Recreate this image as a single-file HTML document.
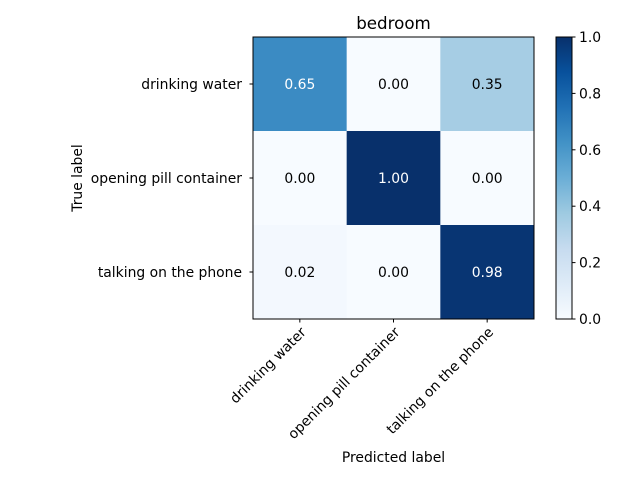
<!DOCTYPE html>
<html><head><meta charset="utf-8"><style>body{margin:0;background:#fff}svg{display:block;font-family:"DejaVu Sans","Liberation Sans",sans-serif}</style></head>
<body>
<svg id="chart" width="640" height="480" xmlns="http://www.w3.org/2000/svg">
<defs><linearGradient id="blues" x1="0" y1="1" x2="0" y2="0">
<stop offset="0" stop-color="#f7fbff"/><stop offset="0.125" stop-color="#deebf7"/><stop offset="0.25" stop-color="#c6dbef"/><stop offset="0.375" stop-color="#9ecae1"/><stop offset="0.5" stop-color="#6baed6"/><stop offset="0.625" stop-color="#4292c6"/><stop offset="0.75" stop-color="#2171b5"/><stop offset="0.875" stop-color="#08519c"/><stop offset="1" stop-color="#08306b"/></linearGradient></defs>
<text x="393.5" y="29" font-size="16.7" text-anchor="middle">bedroom</text>
<g id="cells"></g>
<rect x="253" y="37" width="281" height="282" fill="none" stroke="#000" stroke-width="1"/>
<text transform="translate(82,178) rotate(-90)" font-size="13.9" text-anchor="middle">True label</text>
<text x="393.5" y="462" font-size="13.9" text-anchor="middle">Predicted label</text>
<rect x="556" y="37" width="16" height="282" fill="url(#blues)" stroke="#000" stroke-width="1"/>
<g id="cbticks"></g>
</svg>
<script>
const classes = ["drinking water","opening pill container","talking on the phone"];
const row0 = [0.65,0.00,0.35];
const row1 = [0.00,1.00,0.00];
const row2 = [0.02,0.00,0.98];
const matrix = [row0,row1,row2];
const cbTicks = [0.0,0.2,0.4,0.6,0.8,1.0];
const NS="http://www.w3.org/2000/svg";
const X0=253,Y0=37,W=281,H=282,n=classes.length;
const cw=W/n, ch=H/n;
const xs=i=>X0+i*cw, ys=j=>Y0+j*ch;
const anchors=["#f7fbff","#deebf7","#c6dbef","#9ecae1","#6baed6","#4292c6","#2171b5","#08519c","#08306b"];
function blues(v){v=Math.max(0,Math.min(1,v));const p=v*8,i=Math.min(7,Math.floor(p)),t=p-i;
const a=anchors[i],b=anchors[i+1];const c=k=>Math.round(parseInt(a.substr(k,2),16)*(1-t)+parseInt(b.substr(k,2),16)*t);
return `rgb(${c(1)},${c(3)},${c(5)})`;}
function mk(tag,attrs,parent,txt){const e=document.createElementNS(NS,tag);for(const k in attrs)e.setAttribute(k,attrs[k]);if(txt!==undefined)e.textContent=txt;parent.appendChild(e);return e;}
const g=document.getElementById('cells'), svg=document.getElementById('chart');
let mx=0;matrix.forEach(r=>r.forEach(v=>mx=Math.max(mx,v)));
matrix.forEach((r,j)=>r.forEach((v,i)=>{
 const rc=mk('rect',{x:xs(i),y:ys(j),width:cw+0.5,height:ch+0.5,fill:blues(v)},g);
 
 
 const t=mk('text',{x:xs(i)+cw/2,y:ys(j)+ch/2+5,'font-size':13.9,'text-anchor':'middle',fill:v>mx/2?'#fff':'#000'},g,v.toFixed(2));
 
 
}));
classes.forEach((c,k)=>{
 const cy=ys(k)+ch/2;
 mk('line',{x1:X0-3.5,x2:X0,y1:cy,y2:cy,stroke:'#000'},svg);
 const yl=mk('text',{x:X0-11,y:cy+5,'font-size':13.9,'text-anchor':'end'},svg,c);
 
 
 const cx=xs(k)+cw/2;
 mk('line',{x1:cx,x2:cx,y1:Y0+H,y2:Y0+H+3.5,stroke:'#000'},svg);
 const xl=mk('text',{transform:`translate(${cx+7},${Y0+H+14}) rotate(-45)`,'font-size':13.9,'text-anchor':'end'},svg,c);
 
 
});
const cb=document.getElementById('cbticks');
cbTicks.forEach(v=>{
 const y=Y0+H-v*H;
 mk('line',{x1:572,x2:575.5,y1:y,y2:y,stroke:'#000'},cb);
 const t=mk('text',{x:579,y:y+5,'font-size':13.9},cb,v.toFixed(1));
 
 
});
</script>
</body></html>
